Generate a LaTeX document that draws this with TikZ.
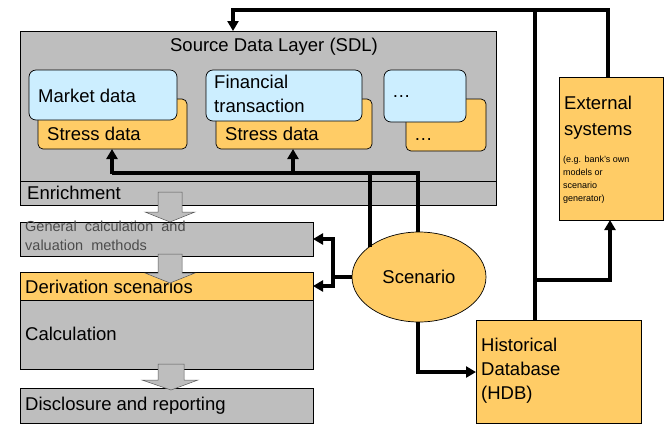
\documentclass[tikz,border=0pt]{standalone}
\usepackage{fontspec}
\setmainfont{Liberation Sans}
\usetikzlibrary{arrows.meta,shapes.geometric}
\definecolor{gr}{HTML}{BEBEBE}
\definecolor{og}{HTML}{FFCC66}
\definecolor{lb}{HTML}{CCEEFF}
\begin{document}
\begin{tikzpicture}[x=1pt,y=-1pt,
  box/.style={draw=black,line width=0.7pt},
  conn/.style={line width=3.6pt,-{Triangle[length=10pt,width=11pt]}},
  plain/.style={line width=3.6pt},
  txt/.style={inner sep=0pt,anchor=west,font=\fontsize{18.5}{20}\selectfont},
  hollow/.style={draw=gray!70!black,fill=gr,line width=0.5pt}]
\useasboundingbox (0,0) rectangle (672,432);
% SDL
\draw[box,fill=gr] (20,31) rectangle (496,205);
\draw[box] (20,181) -- (496,181);
\node[inner sep=0pt,font=\fontsize{18.5}{20}\selectfont] (sdl) at (274,47) {Source Data Layer (SDL)};
\node[txt] (enr) at (27,193) {Enrichment};
% stress boxes
\draw[box,fill=og,rounded corners=5pt] (38,99) rectangle (187,149);
\draw[box,fill=lb,rounded corners=7pt] (29,70) rectangle (177,120);
\node[txt] at (38,96) {Market data};
\node[txt] at (47,134) {Stress data};
\draw[box,fill=og,rounded corners=5pt] (216,99) rectangle (372,149);
\draw[box,fill=lb,rounded corners=7pt] (206,70) rectangle (362,121);
\node[txt,align=left,anchor=north west,font=\fontsize{18.5}{24}\selectfont] at (214,75) {Financial\\transaction};
\node[txt] at (225,134) {Stress data};
\draw[box,fill=og,rounded corners=5pt] (406,99) rectangle (486,151);
\draw[box,fill=lb,rounded corners=7pt] (384,70) rectangle (466,122);
\node[txt] at (392,97) {\dots};
\node[txt] at (414,140) {\dots};
\coordinate (s1) at (112,149);
\coordinate (s2) at (293,149);
% left column
\draw[box,fill=gr] (20,222) rectangle (313,256);
\node[inner sep=0pt,anchor=north west,align=left,font=\fontsize{14.5}{19}\selectfont,text=black!70] (gen) at (25,221) {General\ \ calculation\ \ and\\valuation\ \ methods};
\draw[box,fill=gr] (20,272) rectangle (313,369);
\draw[box,fill=og] (20,272) rectangle (313,300);
\node[txt] (der) at (25,287) {Derivation scenarios};
\node[txt] (calc) at (25,334) {Calculation};
\draw[box,fill=gr] (20,388) rectangle (313,423);
\node[txt] (dis) at (25,406) {Disclosure and reporting};
% hollow arrows
\draw[hollow] (158,192) -- (182,192) -- (182,212) -- (195,212) -- (170,222) -- (145,212) -- (158,212) -- cycle;
\draw[hollow] (158,254) -- (182,254) -- (182,273) -- (195,273) -- (170,283) -- (145,273) -- (158,273) -- cycle;
\draw[hollow] (158,364) -- (184,364) -- (184,380) -- (198,380) -- (171,390) -- (142,380) -- (158,380) -- cycle;
% External and HDB
\draw[box,fill=og] (559,77) rectangle (663,220);
\node[txt,anchor=north west,align=left,font=\fontsize{18.5}{26}\selectfont] (ext) at (564,96) {External\\systems};
\node[inner sep=0pt,anchor=north west,align=left,font=\fontsize{9}{13}\selectfont] at (563,156) {(e.g. bank's own\\models or\\scenario\\generator)};
\draw[box,fill=og] (476,320) rectangle (641,423);
\node[txt,anchor=north west,align=left,font=\fontsize{18.5}{24}\selectfont] (hdb) at (481,338) {Historical\\Database\\(HDB)};
% scenario
\node[draw=black,line width=0.7pt,fill=og,ellipse,minimum width=134pt,minimum height=90pt,inner sep=0pt,font=\fontsize{18.5}{20}\selectfont] (sc) at (419,277) {Scenario};
% connectors
\draw[plain] (370,247) -- (370,173);
\draw[plain] (418,232) -- (418,173) -- (112,173);
\draw[conn] (112,174) -- (s1);
\draw[conn] (293,174) -- (s2);
\draw[plain] (sc.west) -- (333,277);
\draw[conn] (333,278) -- (333,239) -- (313,239);
\draw[conn] (333,276) -- (333,286) -- (313,286);
\draw[conn] (418,322) -- (418,372) -- (476,372);
\draw[conn] (608,77) -- (608,10) -- (233,10) -- (233,31);
\draw[plain] (535,320) -- (535,10);
\draw[conn] (535,280) -- (610,280) -- (610,220);
\end{tikzpicture}
\end{document}
